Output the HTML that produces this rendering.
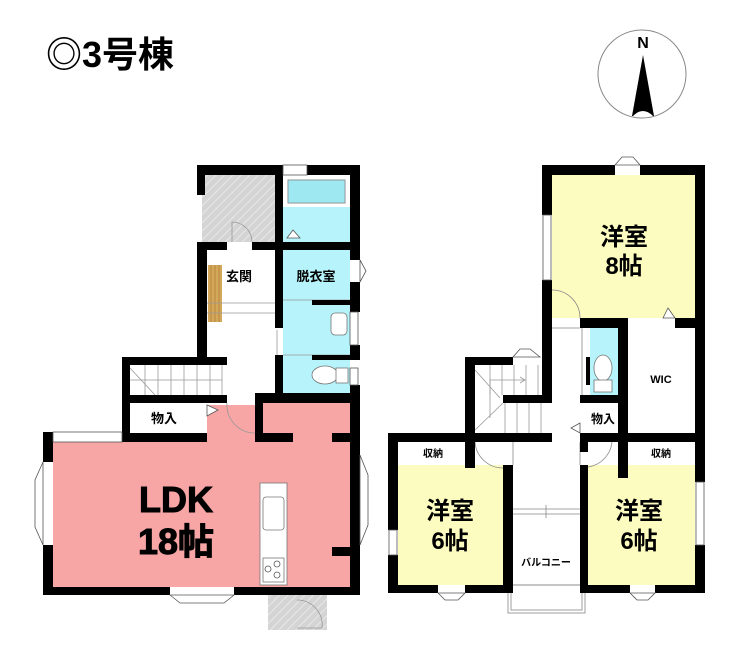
<!DOCTYPE html>
<html><head><meta charset="utf-8"><style>
html,body{margin:0;padding:0;background:#fff;}
svg{display:block;}
text{font-family:"Liberation Sans","Noto Sans CJK JP",sans-serif;font-weight:bold;fill:#000;}
</style></head><body>
<svg width="740" height="659" viewBox="0 0 740 659" xmlns="http://www.w3.org/2000/svg">
<defs>
<pattern id="hatch" width="6" height="6" patternUnits="userSpaceOnUse" patternTransform="rotate(45)">
<rect width="6" height="6" fill="#d4d4d4"/><line x1="0" y1="0" x2="0" y2="6" stroke="#e8e8e8" stroke-width="2"/>
</pattern>
</defs>
<rect width="740" height="659" fill="#fff"/>
<text x="46" y="67" font-size="36">◎3号棟</text>
<!-- compass -->
<circle cx="642" cy="74" r="44" fill="#fff" stroke="#888" stroke-width="1"/>
<text x="643" y="48" font-size="16" text-anchor="middle" font-family="Liberation Serif" font-weight="normal">N</text>
<polygon points="643,55 632,116 654,116" fill="#000"/>
<path d="M633,116 Q643,106 653,116 Z" fill="#fff"/>

<!-- ===== LEFT PLAN ===== -->
<!-- fills -->
<rect x="202" y="175" width="73" height="67" fill="url(#hatch)"/>
<rect x="268" y="595" width="59" height="35" fill="url(#hatch)"/>
<rect x="288" y="180" width="57" height="23" fill="#9ee8f2" stroke="#888" stroke-width="0.8"/>
<rect x="283" y="207" width="67" height="186" fill="#b6f3fa"/>
<rect x="288" y="180" width="57" height="23" fill="#9ee8f2" stroke="#888" stroke-width="0.8"/>
<polygon points="53,442 207,442 207,405 255,405 255,442 263,442 263,403 352,403 352,587 53,587" fill="#f7a5a5"/>
<rect x="207" y="405" width="20" height="37" fill="#f7a5a5"/>
<rect x="208" y="265" width="14" height="57" fill="#d4a85a"/>
<g stroke="#a07030" stroke-width="0.6"><line x1="211" y1="265" x2="211" y2="322"/><line x1="215" y1="265" x2="215" y2="322"/><line x1="219" y1="265" x2="219" y2="322"/></g>
<!-- stairs lines -->
<g stroke="#999" stroke-width="0.8" fill="none">
<line x1="145" y1="365" x2="145" y2="395"/><line x1="158" y1="365" x2="158" y2="395"/><line x1="171" y1="365" x2="171" y2="395"/><line x1="184" y1="365" x2="184" y2="395"/><line x1="197" y1="365" x2="197" y2="395"/><line x1="210" y1="365" x2="210" y2="395"/><line x1="222" y1="365" x2="222" y2="395"/>
<line x1="130" y1="380" x2="222" y2="380"/>
<line x1="130" y1="368" x2="155" y2="395"/>
<line x1="207" y1="303" x2="275" y2="303"/><line x1="207" y1="313" x2="275" y2="313"/>
<line x1="283" y1="300" x2="350" y2="300"/><line x1="283" y1="355" x2="350" y2="355"/>
<line x1="277" y1="330" x2="277" y2="390"/>
<path d="M232,242 L232,222 A20,20 0 0 1 252,242"/>
<path d="M227,403 A28,28 0 0 0 255,433"/>
<path d="M297,600 A25,25 0 0 1 322,628 L297,628"/>
</g>
<!-- walls -->
<g fill="#000">
<rect x="197" y="165" width="8" height="30"/>
<rect x="197" y="165" width="85" height="10"/>
<rect x="275" y="165" width="8" height="163"/>
<rect x="307" y="165" width="53" height="10"/>
<rect x="350" y="165" width="10" height="95"/>
<rect x="197" y="242" width="30" height="8"/>
<rect x="252" y="242" width="30" height="8"/>
<rect x="197" y="242" width="10" height="115"/>
<rect x="283" y="242" width="67" height="8"/>
<rect x="350" y="282" width="10" height="30"/>
<rect x="350" y="345" width="10" height="10"/>
<rect x="312" y="300" width="48" height="5"/>
<rect x="312" y="355" width="48" height="5"/>
<rect x="275" y="355" width="8" height="40"/>
<rect x="350" y="385" width="10" height="210"/>
<rect x="122" y="357" width="105" height="8"/>
<rect x="122" y="357" width="8" height="85"/>
<rect x="122" y="395" width="105" height="8"/>
<rect x="255" y="393" width="105" height="10"/>
<rect x="255" y="393" width="8" height="49"/>
<rect x="255" y="433" width="38" height="9"/>
<rect x="332" y="433" width="20" height="9"/>
<rect x="332" y="547" width="20" height="9"/>
<rect x="122" y="433" width="85" height="9"/>
<rect x="43" y="432" width="10" height="30"/>
<rect x="43" y="545" width="10" height="50"/>
<rect x="43" y="587" width="127" height="8"/>
<rect x="234" y="587" width="126" height="8"/>
<rect x="350" y="430" width="10" height="30"/>
</g>
<!-- windows -->
<g fill="#fff" stroke="#555" stroke-width="0.8">
<rect x="53" y="432" width="69" height="10"/>
<polygon points="43,462 35,480 35,527 43,545"/>
<polygon points="360,455 368,475 368,525 360,545"/>
<polygon points="170,595 180,603 224,603 234,595"/>
<polygon points="360,260 366,271 360,282"/>
<polygon points="207,405 218,410 207,416"/>
<polygon points="287,238 293,230 300,238"/>
<rect x="283" y="165" width="24" height="10"/>
<rect x="350" y="312" width="8" height="33"/>
<rect x="350" y="368" width="8" height="17"/>
</g>
<!-- kitchen -->
<rect x="260" y="483" width="27" height="102" fill="#fff" stroke="#777" stroke-width="0.8"/>
<rect x="263" y="497" width="21" height="33" rx="3" fill="#fff" stroke="#777" stroke-width="0.8"/>
<rect x="263" y="558" width="21" height="24" fill="#fff" stroke="#777" stroke-width="0.8"/>
<g fill="none" stroke="#555" stroke-width="0.8"><circle cx="268" cy="569" r="3"/><circle cx="277" cy="564" r="3"/><circle cx="277" cy="575" r="3"/></g>
<!-- toilet/sink -->
<rect x="331" y="313" width="16" height="22" rx="4" fill="#fff" stroke="#777" stroke-width="0.8"/>
<ellipse cx="325" cy="375" rx="13" ry="9" fill="#fff" stroke="#777" stroke-width="0.8"/>
<rect x="336" y="368" width="12" height="15" fill="#fff" stroke="#777" stroke-width="0.8"/>
<!-- labels -->
<text x="239" y="281" font-size="13" text-anchor="middle">玄関</text>
<text x="316" y="281" font-size="13" text-anchor="middle">脱衣室</text>
<text x="164" y="423" font-size="13" text-anchor="middle">物入</text>
<text x="176" y="512" font-size="36" text-anchor="middle" font-weight="normal" stroke="#000" stroke-width="1">LDK</text>
<text x="176" y="554" font-size="36" text-anchor="middle" font-weight="normal" stroke="#000" stroke-width="1">18帖</text>

<!-- ===== RIGHT PLAN ===== -->
<rect x="552" y="175" width="143" height="143" fill="#fcfbc0"/>
<rect x="398" y="465" width="105" height="120" fill="#fcfbc0"/>
<rect x="588" y="465" width="107" height="120" fill="#fcfbc0"/>
<rect x="590" y="328" width="28" height="67" fill="#b6f3fa"/>
<!-- balcony -->
<g fill="none" stroke="#888" stroke-width="0.8">
<rect x="508" y="585" width="77" height="28"/>
<rect x="511" y="585" width="71" height="25"/>
<line x1="513" y1="509" x2="580" y2="509"/><line x1="513" y1="514" x2="580" y2="514"/><line x1="546" y1="505" x2="546" y2="518"/>
<line x1="552" y1="328" x2="580" y2="328"/>
<line x1="582" y1="328" x2="582" y2="395"/>
<path d="M552,290 A28,28 0 0 1 580,318"/>
<path d="M475,442 A28,28 0 0 0 503,468"/>
<path d="M612,442 A28,28 0 0 1 588,467"/>
<line x1="513" y1="442" x2="513" y2="465"/><line x1="580" y1="442" x2="580" y2="465"/>
</g>
<g stroke="#999" stroke-width="0.8" fill="none">
<line x1="490" y1="365" x2="490" y2="395"/><line x1="502" y1="365" x2="502" y2="395"/><line x1="514" y1="365" x2="514" y2="395"/><line x1="526" y1="365" x2="526" y2="395"/><line x1="538" y1="365" x2="538" y2="395"/>
<line x1="505" y1="403" x2="505" y2="433"/><line x1="517" y1="403" x2="517" y2="433"/><line x1="529" y1="403" x2="529" y2="433"/><line x1="541" y1="403" x2="541" y2="433"/>
<line x1="475" y1="370" x2="500" y2="398"/><line x1="475" y1="430" x2="503" y2="403"/>
<line x1="490" y1="380" x2="525" y2="380"/><polyline points="520,377 525,380 520,383"/>
<line x1="490" y1="380" x2="490" y2="418"/>
</g>
<g fill="#000">
<rect x="542" y="165" width="73" height="10"/>
<rect x="640" y="165" width="63" height="10"/>
<rect x="542" y="165" width="10" height="50"/>
<rect x="542" y="280" width="10" height="123"/>
<rect x="695" y="165" width="10" height="163"/>
<rect x="580" y="318" width="48" height="10"/>
<rect x="675" y="318" width="30" height="10"/>
<rect x="618" y="318" width="10" height="160"/>
<rect x="695" y="318" width="10" height="125"/>
<rect x="586" y="357" width="4" height="28"/>
<rect x="580" y="395" width="48" height="8"/>
<rect x="465" y="357" width="10" height="85"/>
<rect x="465" y="357" width="48" height="8"/>
<rect x="503" y="395" width="49" height="8"/>
<rect x="388" y="433" width="164" height="9"/>
<rect x="580" y="433" width="125" height="9"/>
<rect x="465" y="433" width="10" height="35"/>
<rect x="388" y="433" width="10" height="97"/>
<rect x="388" y="555" width="10" height="38"/>
<rect x="388" y="585" width="50" height="8"/>
<rect x="465" y="585" width="48" height="8"/>
<rect x="503" y="465" width="10" height="128"/>
<rect x="580" y="442" width="8" height="10"/>
<rect x="580" y="465" width="8" height="128"/>
<rect x="580" y="585" width="50" height="8"/>
<rect x="655" y="585" width="50" height="8"/>
<rect x="695" y="442" width="10" height="40"/>
<rect x="695" y="545" width="10" height="48"/>
</g>
<g fill="#fff" stroke="#555" stroke-width="0.8">
<polygon points="615,165 622,157 633,157 640,165"/>
<rect x="543" y="215" width="8" height="65"/>
<polygon points="663,318 668,308 675,318"/>
<polygon points="513,357 520,349 530,349 540,357"/>
<rect x="696" y="482" width="8" height="63"/>
<rect x="389" y="530" width="8" height="25"/>
<polygon points="438,593 445,600 458,600 465,593"/>
<polygon points="630,593 637,600 648,600 655,593"/>
<polygon points="580,423 571,428 580,433"/>
</g>
<ellipse cx="603" cy="368" rx="9" ry="13" fill="#fff" stroke="#777" stroke-width="0.8"/>
<rect x="594" y="380" width="18" height="12" fill="#fff" stroke="#777" stroke-width="0.8"/>
<text x="624" y="245" font-size="24" text-anchor="middle">洋室</text>
<text x="624" y="274" font-size="24" text-anchor="middle">8帖</text>
<text x="450" y="519" font-size="24" text-anchor="middle">洋室</text>
<text x="450" y="549" font-size="24" text-anchor="middle">6帖</text>
<text x="639" y="519" font-size="24" text-anchor="middle">洋室</text>
<text x="639" y="549" font-size="24" text-anchor="middle">6帖</text>
<text x="661" y="383" font-size="11" text-anchor="middle">WIC</text>
<text x="603" y="423" font-size="12" text-anchor="middle">物入</text>
<text x="433" y="457" font-size="10" text-anchor="middle">収納</text>
<text x="661" y="457" font-size="10" text-anchor="middle">収納</text>
<text x="546" y="566" font-size="10" text-anchor="middle" font-weight="normal">バルコニー</text>
</svg>
</body></html>
